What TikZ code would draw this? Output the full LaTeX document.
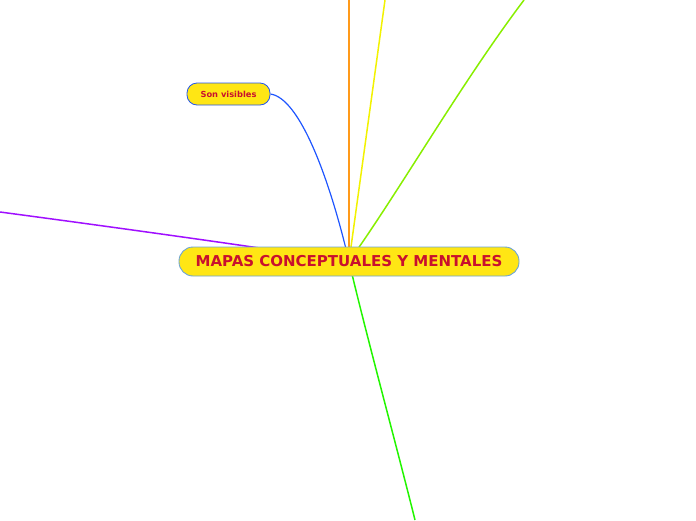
\documentclass[tikz,border=0pt]{standalone}
\usepackage{fontspec}
\setmainfont{DejaVu Sans}
\usetikzlibrary{
  positioning,
  backgrounds
}
\definecolor{mapYellow}{HTML}{FFE614}
\definecolor{mapRed}{HTML}{C8102E}
\definecolor{mapEdge}{HTML}{6BA3D6}
\definecolor{subEdge}{HTML}{2255EE}
\definecolor{brOrange}{HTML}{FF9A1A}
\definecolor{brYellow}{HTML}{F2F200}
\definecolor{brLime}{HTML}{88EE00}
\definecolor{brBlue}{HTML}{1E55FF}
\definecolor{brPurple}{HTML}{A00FFF}
\definecolor{brGreen}{HTML}{22F500}
\tikzset{
  root/.style    = {rectangle, rounded corners=14pt, draw=mapEdge,
                    fill=mapYellow, line width=0.9pt,
                    minimum width=340pt, minimum height=29pt,
                    font=\fontsize{15}{18}\selectfont\bfseries, text=mapRed},
  topic/.style   = {rectangle, rounded corners=10pt, draw=subEdge,
                    fill=mapYellow, line width=0.8pt,
                    minimum width=83pt, minimum height=22pt,
                    font=\fontsize{8.3}{10}\selectfont\bfseries, text=mapRed},
  branch/.style  = {line width=1.5pt}
}
\begin{document}
\begin{tikzpicture}[x=1pt, y=-1pt]
  \useasboundingbox (0,0) rectangle (696,520);
  % main topic and subtopic
  \node[root] (mapas) at (349,261.5) {MAPAS CONCEPTUALES Y MENTALES};
  \node[topic] (visibles) at (228.5,94) {Son visibles};
  % loose ends of branches running off the page
  \coordinate (endOrange) at (349,0);
  \coordinate (endYellow) at (385,0);
  \coordinate (endLime)   at (524,0);
  \coordinate (endPurple) at (0,212);
  \coordinate (endGreen)  at (415,520);
  \begin{pgfonlayer}{background}
    \draw[branch, brOrange, line width=1.8pt] (mapas.center) -- (endOrange);
    \draw[branch, brYellow] (mapas.center) -- (endYellow);
    \draw[branch, brLime] (mapas.center) .. controls (400,190) and (460,85) .. (endLime);
    \draw[branch, brPurple] (mapas.center) .. controls (290,252) and (150,232) .. (endPurple);
    \draw[branch, brGreen] (mapas.center) .. controls (365,330) and (395,440) .. (endGreen);
    \draw[brBlue, line width=1.2pt] (visibles.east) .. controls (300,98) and (330,180) .. (mapas.center);
  \end{pgfonlayer}
\end{tikzpicture}
\end{document}
